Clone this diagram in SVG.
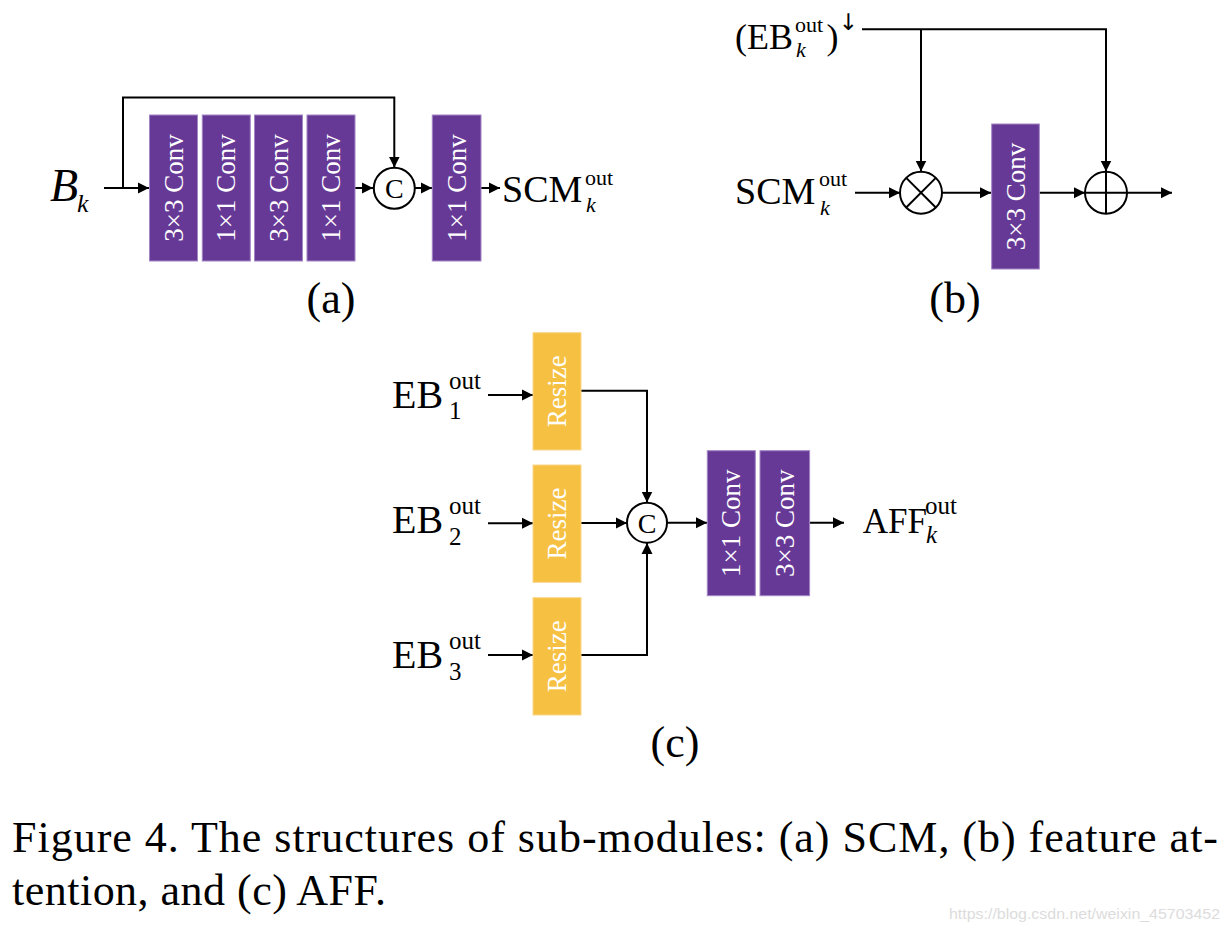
<svg xmlns="http://www.w3.org/2000/svg" width="1230" height="932" viewBox="0 0 1230 932">
<defs>
<marker id="ah" markerUnits="userSpaceOnUse" markerWidth="12" markerHeight="12" refX="11" refY="6" orient="auto">
<path d="M0,0.5 L11,6 L0,11.5 z" fill="#000"/>
</marker>
<style>
.t{font-family:"Liberation Serif","Times New Roman",serif;fill:#000}
.i{font-style:italic}
.bx{fill:#673996;stroke:#a386c6;stroke-width:1}
.ry{fill:#f6c142;stroke:#f9d68a;stroke-width:1}
.bt{font-family:"Liberation Serif","Times New Roman",serif;fill:#fff;font-size:27px;text-anchor:middle}
.ln{fill:none;stroke:#000;stroke-width:2}
.ar{fill:none;stroke:#000;stroke-width:2;marker-end:url(#ah)}
.op{fill:#fff;stroke:#000;stroke-width:2}
</style>
</defs>
<rect width="1230" height="932" fill="#fff"/>

<g id="connectors">
<!-- (a) -->
<path class="ar" d="M104,188 H149"/>
<path class="ar" d="M123,188 V97.5 H394.3 V167.5"/>
<path class="ar" d="M355,188 H373"/>
<path class="ar" d="M415,188 H432"/>
<path class="ar" d="M481,188 H500"/>
<!-- (b) -->
<path class="ar" d="M862,29.3 H1106 V171.5"/>
<path class="ar" d="M921,29.3 V171.5"/>
<path class="ar" d="M855,192.7 H900"/>
<path class="ar" d="M942,192.7 H991"/>
<path class="ar" d="M1039.3,192.7 H1085"/>
<path class="ar" d="M1127,192.7 H1172"/>
<!-- (c) -->
<path class="ar" d="M488,395 H533"/>
<path class="ar" d="M488,523.3 H533"/>
<path class="ar" d="M488,655 H533"/>
<path class="ar" d="M581,390.7 H647 V502.5"/>
<path class="ar" d="M581,523 H627"/>
<path class="ar" d="M581,655 H647 V543"/>
<path class="ar" d="M667,522.7 H707"/>
<path class="ar" d="M809.6,522.7 H844"/>
</g>

<!-- Panel (a) -->
<g id="a-input">
<text class="t i" x="50" y="200.7" font-size="46">B</text>
<text class="t i" x="77" y="212" font-size="26">k</text>
</g>
<g id="a-conv1"><rect class="bx" x="149.5" y="115" width="48" height="146"/><text class="bt" transform="translate(173.5,188) rotate(-90)" x="0" y="9">3×3 Conv</text></g>
<g id="a-conv2"><rect class="bx" x="202.3" y="115" width="48" height="146"/><text class="bt" transform="translate(226.3,188) rotate(-90)" x="0" y="9">1×1 Conv</text></g>
<g id="a-conv3"><rect class="bx" x="254.5" y="115" width="48" height="146"/><text class="bt" transform="translate(278.5,188) rotate(-90)" x="0" y="9">3×3 Conv</text></g>
<g id="a-conv4"><rect class="bx" x="307" y="115" width="48" height="146"/><text class="bt" transform="translate(331,188) rotate(-90)" x="0" y="9">1×1 Conv</text></g>
<g id="a-concat"><circle class="op" cx="394.3" cy="188.3" r="20.5"/><text class="t" x="394.3" y="198" font-size="28" text-anchor="middle">C</text></g>
<g id="a-conv5"><rect class="bx" x="432.3" y="115" width="48.7" height="146"/><text class="bt" transform="translate(456.6,188) rotate(-90)" x="0" y="9">1×1 Conv</text></g>
<g id="a-output">
<text class="t" x="502" y="201.7" font-size="38">SCM</text>
<text class="t" x="585" y="185" font-size="22">out</text>
<text class="t i" x="586" y="212" font-size="22">k</text>
</g>
<text class="t" x="331" y="313" font-size="44" text-anchor="middle">(a)</text>

<!-- Panel (b) -->
<g id="b-input-eb">
<text class="t" x="735" y="49" font-size="36">(EB</text>
<text class="t" x="795" y="31.7" font-size="22">out</text>
<text class="t i" x="796" y="57" font-size="22">k</text>
<text class="t" x="826.5" y="49" font-size="36">)</text>
<text x="838.5" y="29.5" font-size="23" font-family="DejaVu Sans, sans-serif" fill="#000">↓</text>
</g>
<g id="b-input-scm">
<text class="t" x="735" y="204" font-size="38">SCM</text>
<text class="t" x="819" y="186" font-size="22">out</text>
<text class="t i" x="820" y="215" font-size="22">k</text>
</g>
<g id="b-mul"><circle class="op" cx="921" cy="192.7" r="21"/><path class="ln" d="M906.2,177.9 L935.8,207.5 M935.8,177.9 L906.2,207.5"/></g>
<g id="b-conv"><rect class="bx" x="991.7" y="124" width="47.6" height="145"/><text class="bt" transform="translate(1015.5,196.5) rotate(-90)" x="0" y="9">3×3 Conv</text></g>
<g id="b-add"><circle class="op" cx="1106" cy="192.7" r="21"/><path class="ln" d="M1085,192.7 H1127 M1106,171.7 V213.7"/></g>
<text class="t" x="955" y="313" font-size="44" text-anchor="middle">(b)</text>

<!-- Panel (c) -->
<g id="c-in1"><text class="t" x="392" y="408.3" font-size="40">EB</text><text class="t" x="449" y="389" font-size="25">out</text><text class="t" x="449" y="419.3" font-size="25">1</text></g>
<g id="c-in2"><text class="t" x="392" y="533.3" font-size="40">EB</text><text class="t" x="449" y="514" font-size="25">out</text><text class="t" x="449" y="545" font-size="25">2</text></g>
<g id="c-in3"><text class="t" x="392" y="668.3" font-size="40">EB</text><text class="t" x="449" y="649" font-size="25">out</text><text class="t" x="449" y="680" font-size="25">3</text></g>
<g id="c-resize1"><rect class="ry" x="533" y="332.7" width="48" height="117.3"/><text class="bt" transform="translate(557,391.3) rotate(-90)" x="0" y="9">Resize</text></g>
<g id="c-resize2"><rect class="ry" x="533" y="465" width="48" height="117.3"/><text class="bt" transform="translate(557,523.6) rotate(-90)" x="0" y="9">Resize</text></g>
<g id="c-resize3"><rect class="ry" x="533" y="597.7" width="48" height="117.3"/><text class="bt" transform="translate(557,656.3) rotate(-90)" x="0" y="9">Resize</text></g>
<g id="c-concat"><circle class="op" cx="647" cy="522.7" r="20"/><text class="t" x="647" y="532.5" font-size="28" text-anchor="middle">C</text></g>
<g id="c-conv1"><rect class="bx" x="707.3" y="450.7" width="48" height="145"/><text class="bt" transform="translate(731.3,523.2) rotate(-90)" x="0" y="9">1×1 Conv</text></g>
<g id="c-conv2"><rect class="bx" x="760" y="450.7" width="49.6" height="145"/><text class="bt" transform="translate(784.8,523.2) rotate(-90)" x="0" y="9">3×3 Conv</text></g>
<g id="c-output"><text class="t" x="862.7" y="533.3" font-size="35">AFF</text><text class="t" x="925" y="514" font-size="25">out</text><text class="t i" x="926" y="543.3" font-size="25">k</text></g>
<text class="t" x="675" y="757" font-size="44" text-anchor="middle">(c)</text>

<!-- Caption -->
<text class="t" x="12" y="852" font-size="44" textLength="1206" lengthAdjust="spacing">Figure 4. The structures of sub-modules: (a) SCM, (b) feature at-</text>
<text class="t" x="12" y="905" font-size="44" textLength="374" lengthAdjust="spacing">tention, and (c) AFF.</text>
<text x="949" y="919" font-size="15" font-family="Liberation Sans, Arial, sans-serif" fill="#dcdcdc" textLength="271" lengthAdjust="spacingAndGlyphs">https://blog.csdn.net/weixin_45703452</text>
</svg>
